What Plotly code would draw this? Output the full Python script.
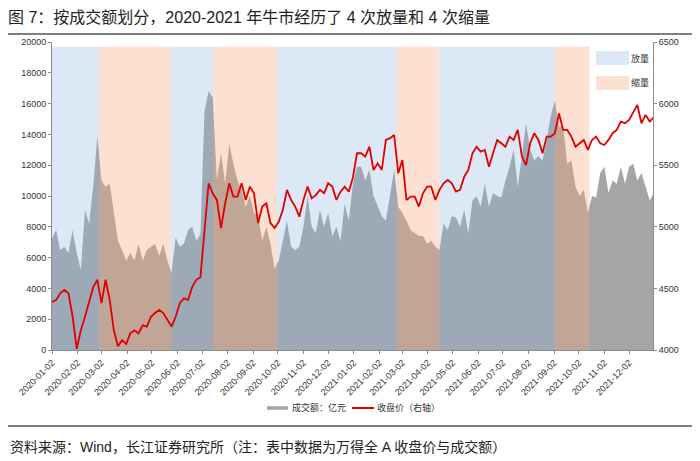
import pandas as pd
import plotly.graph_objects as go

# ---------------- data ----------------
volume = [7250, 7800, 6500, 6700, 6300, 7800, 6300, 5200, 9100, 8200,
          10600, 13900, 11000, 10600, 10800, 8900, 7100, 6500, 5800, 6300,
          5800, 6900, 5800, 6500, 6700, 6900, 6100, 6900, 5800, 5000,
          7300, 6700, 6900, 7800, 8000, 7100, 7500, 15500, 16800, 16400,
          11000, 12800, 10800, 13400, 12100, 11000, 10400, 9300, 10000, 8900,
          8700, 7100, 8000, 6900, 5300, 5800, 7100, 8400, 6700, 6500,
          6700, 8000, 10000, 8000, 7600, 9100, 8000, 8900, 7400, 8000,
          7100, 9500, 8400, 10800, 11900, 11900, 11000, 11700, 10000, 9300,
          8700, 8400, 10000, 11700, 9300, 8900, 8400, 7800, 7600, 7400,
          7400, 6900, 7100, 6700, 6500, 8200, 7800, 8700, 8600, 8000,
          9100, 7600, 9700, 10000, 9300, 10800, 9300, 10200, 10000, 9900,
          11000, 11900, 13000, 10600, 12600, 14700, 13000, 12300, 12600, 12300,
          13600, 15200, 16200, 14500, 14500, 12100, 12300, 10600, 10000, 10400,
          8900, 10000, 9900, 11500, 11900, 10200, 11000, 10800, 11900, 10800,
          11900, 12100, 11000, 11500, 10600, 9700, 10200]

close = [4390, 4406, 4460, 4487, 4460, 4270, 4010, 4160, 4270, 4380,
         4510, 4570, 4380, 4570, 4406, 4160, 4030, 4080, 4050, 4135,
         4160, 4135, 4200, 4190, 4270, 4300, 4325, 4300, 4245, 4190,
         4270, 4380, 4420, 4406, 4510, 4570, 4590, 5000, 5353, 5270,
         5218, 4990, 5190, 5353, 5245, 5245, 5353, 5218, 5326, 5272,
         5030, 5164, 5190, 5030, 4990, 5040, 5136, 5300, 5218, 5164,
         5082, 5218, 5326, 5231, 5258, 5300, 5272, 5353, 5326, 5218,
         5285, 5326, 5285, 5400, 5597, 5597, 5570, 5650, 5461, 5515,
         5461, 5705, 5720, 5745, 5434, 5542, 5218, 5245, 5245, 5164,
         5272, 5326, 5326, 5218, 5300, 5353, 5380, 5353, 5285, 5300,
         5407, 5461, 5597, 5650, 5610, 5624, 5488, 5597, 5705, 5678,
         5650, 5732, 5705, 5786, 5570, 5500, 5678, 5760, 5705, 5597,
         5732, 5732, 5760, 5920, 5786, 5786, 5732, 5650, 5678, 5705,
         5624, 5705, 5732, 5678, 5664, 5705, 5760, 5786, 5854, 5840,
         5867, 5935, 5990, 5840, 5908, 5854, 5890]

dates = pd.date_range("2020-01-02", periods=len(volume), freq="5D")

period_start = ["2020-01-02", "2020-02-28", "2020-05-26", "2020-07-15",
                "2020-10-01", "2021-02-23", "2021-04-16", "2021-09-03"]
period_end = ["2020-02-28", "2020-05-26", "2020-07-15", "2020-10-01",
              "2021-02-23", "2021-04-16", "2021-09-03", "2021-10-15"]
period_type = ["放量", "缩量", "放量", "缩量", "放量", "缩量", "放量", "缩量"]

tick_dates = pd.date_range("2020-01-02", periods=24, freq=pd.DateOffset(months=1))
tick_text = [d.strftime("%Y-%m-%d") for d in tick_dates]

# ---------------- style ----------------
FONT = "Liberation Sans, Arial, Noto Sans CJK SC, sans-serif"
SHADE_TOP = 19700
shade_color = {"放量": "rgba(140,180,225,0.30)", "缩量": "rgba(245,170,125,0.35)"}
box_color = {"放量": "#dce8f5", "缩量": "#fbe1d2"}
GRAY = "#a5a5a5"
RED = "#e00000"

L, R, T, B = 52, 653, 42, 350
def px_x(px):
    return (px - L) / (R - L)
def px_y(py):
    return (B - py) / (B - T)

fig = go.Figure()

fig.add_trace(go.Scatter(x=dates, y=volume, mode="lines", fill="tozeroy",
                         line=dict(width=0, color=GRAY), fillcolor=GRAY,
                         showlegend=False, hoverinfo="skip"))

for s, e, t in zip(period_start, period_end, period_type):
    fig.add_trace(go.Scatter(x=[s, s, e, e, s], y=[0, SHADE_TOP, SHADE_TOP, 0, 0],
                             mode="lines", fill="toself", fillcolor=shade_color[t],
                             line=dict(width=0), showlegend=False, hoverinfo="skip"))

fig.add_trace(go.Scatter(x=dates, y=close, mode="lines", yaxis="y2",
                         line=dict(color=RED, width=1.8), showlegend=False))

axis_common = dict(showgrid=False, zeroline=False, showline=True, linecolor="#8c8c8c",
                   linewidth=1, ticks="outside", ticklen=3, tickcolor="#8c8c8c",
                   tickfont=dict(size=9, color="#333", family=FONT))

fig.update_layout(
    width=700, height=461,
    margin=dict(l=L, r=700 - R, t=T, b=461 - B),
    paper_bgcolor="white", plot_bgcolor="white",
    font=dict(family=FONT, color="#333"),
    title=dict(text="图 7：按成交额划分，2020-2021 年牛市经历了 4 次放量和 4 次缩量",
               x=8 / 700, xanchor="left", xref="container",
               y=1 - 17 / 461, yanchor="middle", yref="container",
               font=dict(size=16, color="#222", family=FONT)),
    xaxis=dict(type="date", range=["2020-01-02", "2021-12-31"],
               tickvals=tick_dates, ticktext=tick_text, tickangle=-45, **axis_common),
    yaxis=dict(range=[0, 20000], tickvals=list(range(0, 20001, 2000)), tickformat="d",
               **axis_common),
    yaxis2=dict(range=[4000, 6500], tickvals=list(range(4000, 6501, 500)), tickformat="d",
                overlaying="y", side="right", **axis_common),
    showlegend=False,
)

shapes = []
annos = []
# title underline & source line
for yy in (34, 426):
    shapes.append(dict(type="line", xref="paper", yref="paper",
                       x0=px_x(8), x1=px_x(692), y0=px_y(yy), y1=px_y(yy),
                       line=dict(color="#555", width=1.6)))
# top-right legend
for i, t in enumerate(["放量", "缩量"]):
    y0, y1 = 51 + 25 * i, 65 + 25 * i
    shapes.append(dict(type="rect", xref="paper", yref="paper",
                       x0=px_x(596), x1=px_x(629), y0=px_y(y1), y1=px_y(y0),
                       fillcolor=box_color[t], line=dict(width=0)))
    annos.append(dict(text=t, xref="paper", yref="paper", x=px_x(629), y=px_y((y0 + y1) / 2),
                      xanchor="left", yanchor="middle", showarrow=False,
                      font=dict(size=9, color="#333", family=FONT)))
# bottom legend
shapes.append(dict(type="line", xref="paper", yref="paper", x0=px_x(267), x1=px_x(288),
                   y0=px_y(408), y1=px_y(408), line=dict(color=GRAY, width=3.5)))
annos.append(dict(text="成交额：亿元", xref="paper", yref="paper", x=px_x(290), y=px_y(408),
                  xanchor="left", yanchor="middle", showarrow=False,
                  font=dict(size=9, color="#333", family=FONT)))
shapes.append(dict(type="line", xref="paper", yref="paper", x0=px_x(352), x1=px_x(374),
                   y0=px_y(408), y1=px_y(408), line=dict(color=RED, width=2)))
annos.append(dict(text="收盘价（右轴）", xref="paper", yref="paper", x=px_x(375), y=px_y(408),
                  xanchor="left", yanchor="middle", showarrow=False,
                  font=dict(size=9, color="#333", family=FONT)))
# source
annos.append(dict(text="资料来源：Wind，长江证券研究所（注：表中数据为万得全 A 收盘价与成交额）",
                  xref="paper", yref="paper", x=px_x(8), y=px_y(447),
                  xanchor="left", yanchor="middle", showarrow=False,
                  font=dict(size=14, color="#222", family=FONT)))

fig.update_layout(shapes=shapes, annotations=annos)
fig.write_html("out.html")
